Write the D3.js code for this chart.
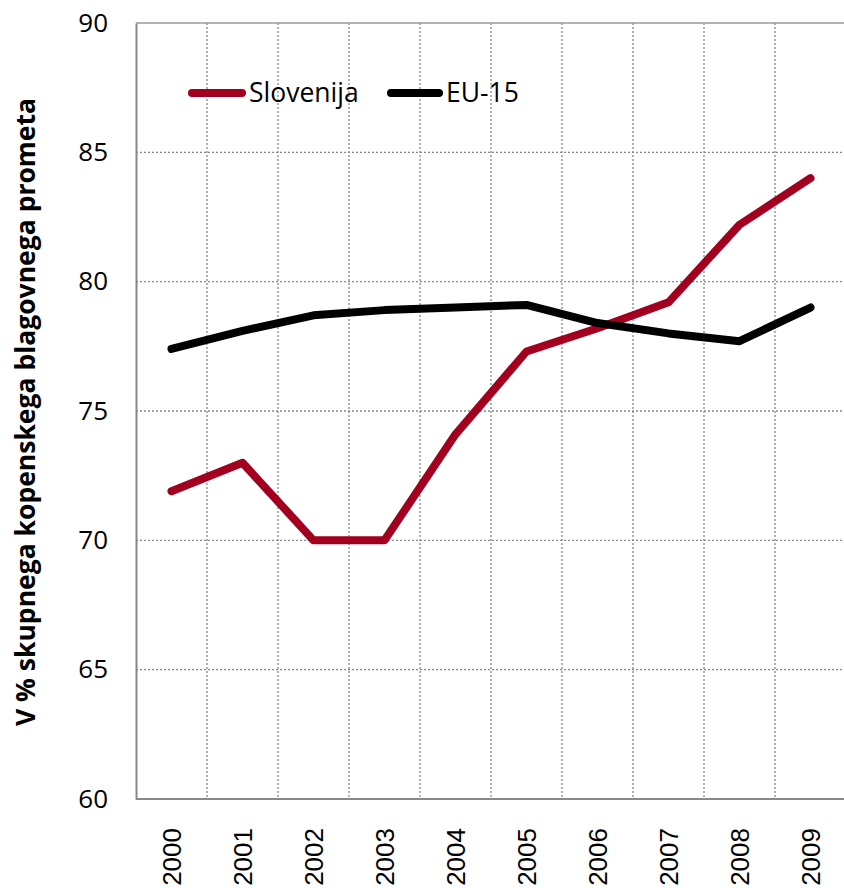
<!DOCTYPE html>
<html><head><meta charset="utf-8">
<script src="https://cdn.jsdelivr.net/npm/d3@7"></script>
<style>body{margin:0;background:#fff}</style>
</head><body>
<svg id="c" width="844" height="888"></svg>
<script>
const years = ["2000","2001","2002","2003","2004","2005","2006","2007","2008","2009"];
const slovenija = [71.9, 73.0, 70.0, 70.0, 74.1, 77.3, 78.2, 79.2, 82.2, 84.0];
const eu15 = [77.4, 78.1, 78.7, 78.9, 79.0, 79.1, 78.4, 78.0, 77.7, 79.0];
const yTicks = [60, 65, 70, 75, 80, 85, 90];
const seriesNames = ["Slovenija", "EU-15"];
const seriesColors = ["#a3001f", "#000000"];

const svg = d3.select("#c");
const L = 136, T = 23, B = 799, R = 136 + 71 * 10;
const x = d3.scaleBand().domain(years).range([L, R]).padding(0);
const y = d3.scaleLinear().domain([60, 90]).range([B, T]);

// horizontal grid
svg.append("g").selectAll("line").data(yTicks.filter(v => v > 60 && v < 90)).join("line")
  .attr("x1", L).attr("x2", 844).attr("y1", d => y(d)).attr("y2", d => y(d))
  .attr("stroke", "#888").attr("stroke-width", 1.3).attr("stroke-dasharray", "2,2");
// vertical grid
svg.append("g").selectAll("line").data(years.slice(1)).join("line")
  .attr("x1", d => x(d)).attr("x2", d => x(d)).attr("y1", T).attr("y2", B)
  .attr("stroke", "#888").attr("stroke-width", 1.3).attr("stroke-dasharray", "2,2");
// top border
svg.append("line").attr("x1", L).attr("x2", 844).attr("y1", y(90)).attr("y2", y(90))
  .attr("stroke", "#999").attr("stroke-width", 1.5);

// axes
const yAxis = d3.axisLeft(y).tickValues(yTicks).tickSize(0).tickPadding(28);
const gy = svg.append("g").attr("transform", `translate(${L},0)`).call(yAxis);
gy.select(".domain").attr("stroke", "#888").attr("stroke-width", 2);
gy.selectAll("text").attr("font-family", "'Open Sans', sans-serif").attr("font-size", 26).attr("fill", "#000");

const xAxis = d3.axisBottom(x).tickSize(0).tickPadding(0);
const gx = svg.append("g").attr("transform", `translate(0,${B})`).call(xAxis);
gx.select(".domain").attr("stroke", "#888").attr("stroke-width", 2).attr("d", `M${L},0H844`);
gx.selectAll("text").attr("font-family", "'Liberation Sans', Arial, sans-serif").attr("font-size", 26)
  .attr("fill", "#000").attr("transform", "rotate(-90)").attr("text-anchor", "end")
  .attr("x", -29).attr("y", 0).attr("dy", "0.35em");

// lines
const line = d3.line().x((d, i) => x(years[i]) + x.bandwidth() / 2).y(d => y(d));
[slovenija, eu15].forEach((s, i) => {
  svg.append("path").datum(s).attr("d", line).attr("fill", "none")
    .attr("stroke", seriesColors[i]).attr("stroke-width", 8)
    .attr("stroke-linecap", "round").attr("stroke-linejoin", "round");
});

// legend
const leg = [{x: 192, tx: 249}, {x: 391, tx: 446}];
seriesNames.forEach((n, i) => {
  svg.append("line").attr("x1", leg[i].x).attr("x2", leg[i].tx - 7).attr("y1", 93).attr("y2", 93)
    .attr("stroke", seriesColors[i]).attr("stroke-width", 8).attr("stroke-linecap", "round");
  svg.append("text").attr("x", leg[i].tx).attr("y", 93).attr("dy", "0.35em")
    .attr("font-family", "'Open Sans', sans-serif").attr("font-size", 26.5).text(n);
});

// y title
svg.append("text").attr("transform", `translate(35,412) rotate(-90)`)
  .attr("text-anchor", "middle").attr("font-family", "'Open Sans', sans-serif")
  .attr("font-weight", "bold").attr("font-size", 26.5).text("V % skupnega kopenskega blagovnega prometa");
</script>
</body></html>
